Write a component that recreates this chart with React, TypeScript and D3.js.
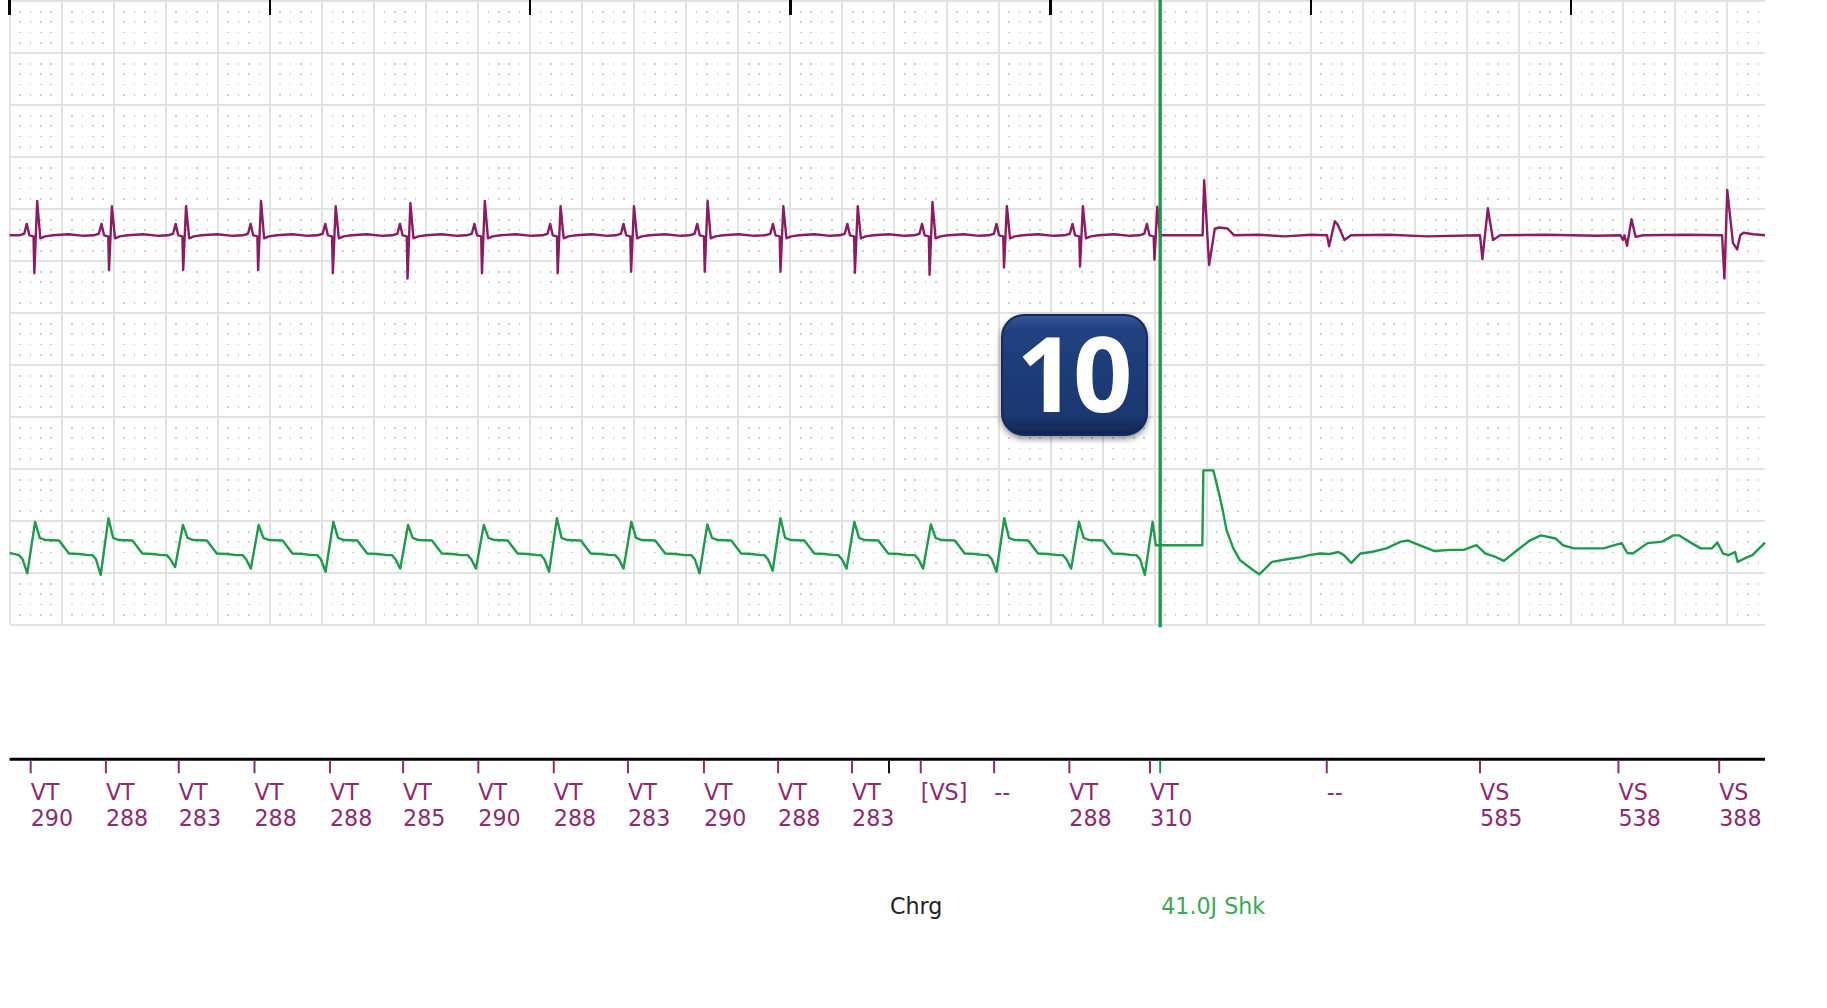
import React, { useEffect, useRef } from 'react';
import * as d3 from 'd3';

// ---- strip data (times in ms, amplitudes in mV, 1 mV = 1 grid row) ----

// time span covered by the paper grid
const stripStart = 0;
const stripEnd = 6745;
const secondTicks = [0, 1000, 2000, 3000, 4000, 5000, 6000];

// near-field EGM (purple): spike times and amplitudes of the VT beats before the shock
const nearBeatTimes = [106, 393, 678, 966, 1253, 1540, 1826, 2117, 2399, 2682, 2973, 3259, 3546, 3832, 4124, 4410];
const nearBeatPeaks = [0.66, 0.56, 0.56, 0.66, 0.56, 0.62, 0.66, 0.56, 0.56, 0.66, 0.56, 0.56, 0.64, 0.56, 0.56, 0.55];
const nearBeatTroughs = [-0.73, -0.67, -0.67, -0.67, -0.73, -0.83, -0.73, -0.73, -0.7, -0.7, -0.7, -0.72, -0.76, -0.62, -0.6, -0.47];
// one VT complex on the near-field channel (offset ms, level)
const nearShape = [
  { dt: -70, v: 0 },
  { dt: -50, v: 0.03 },
  { dt: -40, v: 0.22 },
  { dt: -30, v: 0 },
  { dt: -14, v: -0.02 },
  { dt: -11, key: 'trough' },
  { dt: 0, key: 'peak' },
  { dt: 12, v: -0.06 },
  { dt: 30, v: -0.02 },
  { dt: 60, v: 0 },
  { dt: 120, v: 0.02 },
  { dt: 180, v: -0.01 },
];
// near-field after the shock
const nearAfterShock: [number, number][] = [
  [4424, 0], [4584, 0], [4590, 1.06], [4609, -0.57], [4631, 0.13], [4647, 0.15], [4680, 0.13], [4705, 0],
  [4800, 0.01], [4900, -0.02], [5000, 0.01], [5062, 0], [5070, -0.21], [5092, 0.27], [5104, 0.2], [5129, -0.09],
  [5154, 0], [5300, 0.01], [5450, -0.02], [5650, 0], [5659, -0.46], [5680, 0.52], [5700, -0.09], [5727, 0],
  [5900, 0.01], [6100, -0.01], [6190, 0], [6199, -0.09], [6205, 0], [6215, -0.2], [6232, 0.31], [6248, -0.03],
  [6277, 0], [6450, 0.01], [6580, 0], [6589, -0.83], [6600, 0.87], [6622, -0.15], [6638, -0.27], [6650, 0],
  [6663, 0.05], [6700, 0.02], [6745, 0],
];

// far-field EGM (green)
const farBeatTimes = [98, 380, 666, 957, 1244, 1531, 1822, 2103, 2389, 2681, 2962, 3246, 3540, 3822, 4109, 4392];
const farBeatPeaks = [0.64, 0.71, 0.58, 0.58, 0.64, 0.58, 0.58, 0.71, 0.64, 0.59, 0.71, 0.64, 0.59, 0.71, 0.64, 0.64];
const farBeatTroughs = [-0.35, -0.38, -0.23, -0.26, -0.32, -0.26, -0.26, -0.32, -0.26, -0.35, -0.3, -0.26, -0.26, -0.32, -0.26, -0.38];
const farShape = [
  { dt: -62, v: 0 },
  { dt: -48, v: -0.08 },
  { dt: -30, key: 'trough' },
  { dt: 0, key: 'peak' },
  { dt: 18, v: 0.33 },
  { dt: 40, v: 0.29 },
  { dt: 92, v: 0.28 },
  { dt: 130, v: 0.03 },
  { dt: 170, v: 0.02 },
  { dt: 205, v: 0 },
];
const farAfterShock: [number, number][] = [
  [4404, 0.19], [4583, 0.19], [4587, 1.63], [4625, 1.63], [4644, 1.25], [4661, 0.87], [4676, 0.48], [4702, 0.13],
  [4728, -0.1], [4779, -0.29], [4802, -0.37], [4851, -0.13], [4908, -0.08], [4964, -0.04], [4993, 0], [5035, 0.03],
  [5070, 0.02], [5106, 0.06], [5127, 0], [5155, -0.15], [5190, 0.03], [5233, 0.06], [5290, 0.13], [5346, 0.26],
  [5374, 0.28], [5417, 0.19], [5473, 0.08], [5537, 0.1], [5587, 0.1], [5636, 0.19], [5671, 0.03], [5707, -0.03],
  [5742, -0.11], [5784, 0.06], [5841, 0.28], [5884, 0.38], [5940, 0.32], [5968, 0.19], [6011, 0.13], [6124, 0.13],
  [6194, 0.23], [6216, 0.04], [6237, 0.03], [6294, 0.23], [6350, 0.26], [6393, 0.38], [6414, 0.38], [6463, 0.23],
  [6498, 0.13], [6541, 0.13], [6562, 0.24], [6584, 0.03], [6605, 0], [6630, 0.06], [6640, -0.13], [6668, -0.06],
  [6697, 0], [6745, 0.24],
];

// marker channel
const markerTimes = [81, 370, 650, 941, 1231, 1512, 1801, 2091, 2376, 2668, 2953, 3237, 3501, 3783, 4072, 4382, 5061, 5650, 6182, 6569];
const markerCodes = ['VT', 'VT', 'VT', 'VT', 'VT', 'VT', 'VT', 'VT', 'VT', 'VT', 'VT', 'VT', '[VS]', '--', 'VT', 'VT', '--', 'VS', 'VS', 'VS'];
const markerIntervals = ['290', '288', '283', '288', '288', '285', '290', '288', '283', '290', '288', '283', '', '', '288', '310', '', '585', '538', '388'];

// therapy events
const chargeTime = 3379;
const shockTime = 4421;
const chargeLabel = 'Chrg';
const shockLabel = '41.0J Shk';
const badgeLabel = '10';

// ---- layout ----
const WIDTH = 1827;
const HEIGHT = 1008;
const grid = { left: 9.6, right: 1765, top: 1.3, bottom: 625.3, rows: 12 };
const nearBaseRow = 4.5;
const farBaseRow = 10.65;
const markerAxisY = 759.3;

const PURPLE = '#8b1c62';
const PURPLE_TEXT = '#8f2a6f';
const GREEN = '#1f9a4c';
const GREEN_TEXT = '#3aa85a';
const LABEL_FONT = '"DejaVu Sans", sans-serif';
const LABEL_SIZE = 22.2;

type ShapePt = { dt: number; v?: number; key?: string };

// lay the complex template at every beat, using that beat's own peak / trough
function buildBeats(times: number[], peaks: number[], troughs: number[], shape: ShapePt[]) {
  const pts: [number, number][] = [];
  times.forEach((t, i) => {
    shape.forEach(s => {
      const v = s.key === 'peak' ? peaks[i] : s.key === 'trough' ? troughs[i] : (s.v as number);
      pts.push([t + s.dt, v]);
    });
  });
  return pts;
}

export default function App() {
  const svgRef = useRef<SVGSVGElement>(null);

  useEffect(() => {
    if (!svgRef.current) return;
    const svg = d3.select(svgRef.current);
    svg.selectAll('*').remove();

    const x = d3.scaleLinear().domain([stripStart, stripEnd]).range([grid.left, grid.right]);
    const yRow = d3.scaleLinear().domain([0, grid.rows]).range([grid.top, grid.bottom]);

    // ---- paper grid ----
    const g = svg.append('g').attr('shape-rendering', 'crispEdges');

    // sub-division dots (every 40 ms / 0.2 row, skipping the major lines)
    const dots: { t: number; r: number }[] = [];
    for (let i = 0; i * 40 < stripEnd; i++) {
      if (i % 5 === 0) continue;
      for (let j = 0; j < grid.rows * 5; j++) {
        if (j % 5 === 0) continue;
        dots.push({ t: i * 40, r: j / 5 });
      }
    }
    g.selectAll('rect.dot')
      .data(dots)
      .join('rect')
      .attr('class', 'dot')
      .attr('x', d => x(d.t) - 0.8)
      .attr('y', d => yRow(d.r) - 0.8)
      .attr('width', 1.6)
      .attr('height', 1.6)
      .attr('fill', '#cfcfcf');

    g.selectAll('line.v')
      .data(d3.range(stripStart, stripEnd, 200))
      .join('line')
      .attr('class', 'v')
      .attr('x1', d => x(d))
      .attr('x2', d => x(d))
      .attr('y1', grid.top)
      .attr('y2', grid.bottom)
      .attr('stroke', '#e2e2e2')
      .attr('stroke-width', 2);

    g.selectAll('line.h')
      .data(d3.range(0, grid.rows + 1))
      .join('line')
      .attr('class', 'h')
      .attr('x1', grid.left)
      .attr('x2', grid.right)
      .attr('y1', d => yRow(d))
      .attr('y2', d => yRow(d))
      .attr('stroke', '#e2e2e2')
      .attr('stroke-width', 2);

    // one-second ticks along the top edge
    g.selectAll('line.sec')
      .data(secondTicks)
      .join('line')
      .attr('class', 'sec')
      .attr('x1', d => x(d))
      .attr('x2', d => x(d))
      .attr('y1', 0)
      .attr('y2', 15)
      .attr('stroke', '#000')
      .attr('stroke-width', 2.5);

    // ---- traces ----
    const traceLine = (baseRow: number) =>
      d3.line<[number, number]>()
        .x(d => x(d[0]))
        .y(d => yRow(baseRow - d[1]));

    const nearPts: [number, number][] = [
      [0, 0],
      ...buildBeats(nearBeatTimes, nearBeatPeaks, nearBeatTroughs, nearShape).filter(p => p[0] < nearAfterShock[0][0]),
      ...nearAfterShock,
    ];
    const farPts: [number, number][] = [
      [0, 0.04],
      [20, 0.02],
      ...buildBeats(farBeatTimes, farBeatPeaks, farBeatTroughs, farShape).filter(p => p[0] < farAfterShock[0][0]),
      ...farAfterShock,
    ];

    svg.append('path')
      .attr('d', traceLine(nearBaseRow)(nearPts))
      .attr('fill', 'none')
      .attr('stroke', PURPLE)
      .attr('stroke-width', 2.4)
      .attr('stroke-linejoin', 'round');

    svg.append('path')
      .attr('d', traceLine(farBaseRow)(farPts))
      .attr('fill', 'none')
      .attr('stroke', GREEN)
      .attr('stroke-width', 2.4)
      .attr('stroke-linejoin', 'round');

    // shock delivery line
    svg.append('line')
      .attr('x1', x(shockTime))
      .attr('x2', x(shockTime))
      .attr('y1', 0)
      .attr('y2', grid.bottom + 2)
      .attr('stroke', '#1c9648')
      .attr('stroke-width', 3.3);

    // ---- marker channel ----
    const m = svg.append('g');
    m.append('line')
      .attr('x1', grid.left)
      .attr('x2', grid.right)
      .attr('y1', markerAxisY)
      .attr('y2', markerAxisY)
      .attr('stroke', '#000')
      .attr('stroke-width', 3);

    const markers = markerTimes.map((t, i) => ({ t, code: markerCodes[i], interval: markerIntervals[i] }));
    const ticks = [
      ...markers.map(d => ({ t: d.t, color: PURPLE_TEXT })),
      { t: chargeTime, color: '#111' },
      { t: shockTime, color: GREEN },
    ];
    m.selectAll('line.mk')
      .data(ticks)
      .join('line')
      .attr('class', 'mk')
      .attr('x1', d => x(d.t))
      .attr('x2', d => x(d.t))
      .attr('y1', markerAxisY + 1)
      .attr('y2', markerAxisY + 14)
      .attr('stroke', d => d.color)
      .attr('stroke-width', 2);

    // code on the first line, interval (ms) on the second
    const labels = m.selectAll('text.lbl')
      .data(markers)
      .join('text')
      .attr('class', 'lbl')
      .attr('font-family', LABEL_FONT)
      .attr('font-size', LABEL_SIZE)
      .attr('fill', PURPLE_TEXT);
    labels.append('tspan')
      .attr('x', d => x(d.t))
      .attr('y', 799.5)
      .text(d => d.code);
    labels.filter(d => d.interval !== '')
      .append('tspan')
      .attr('x', d => x(d.t))
      .attr('y', 825.5)
      .text(d => d.interval);

    // therapy annotations under the marker channel
    m.append('text')
      .attr('x', x(chargeTime) + 1)
      .attr('y', 914)
      .attr('font-family', LABEL_FONT)
      .attr('font-size', LABEL_SIZE)
      .attr('fill', '#222')
      .text(chargeLabel);
    m.append('text')
      .attr('x', x(shockTime) + 1)
      .attr('y', 914)
      .attr('font-family', LABEL_FONT)
      .attr('font-size', LABEL_SIZE)
      .attr('fill', GREEN_TEXT)
      .text(shockLabel);

    // ---- numbered callout badge ----
    const defs = svg.append('defs');
    const grad = defs.append('linearGradient')
      .attr('id', 'badgeFill')
      .attr('x1', 0).attr('y1', 0).attr('x2', 0).attr('y2', 1);
    grad.append('stop').attr('offset', '0%').attr('stop-color', '#34579a');
    grad.append('stop').attr('offset', '12%').attr('stop-color', '#21417f');
    grad.append('stop').attr('offset', '85%').attr('stop-color', '#1b3770');
    grad.append('stop').attr('offset', '100%').attr('stop-color', '#0f2452');
    const shadow = defs.append('filter').attr('id', 'badgeShadow')
      .attr('x', '-20%').attr('y', '-20%').attr('width', '140%').attr('height', '150%');
    shadow.append('feDropShadow')
      .attr('dx', 0).attr('dy', 3).attr('stdDeviation', 3)
      .attr('flood-color', '#000').attr('flood-opacity', 0.45);

    const badge = svg.append('g').attr('transform', 'translate(1002,315)');
    badge.append('rect')
      .attr('width', 145)
      .attr('height', 120)
      .attr('rx', 22)
      .attr('fill', 'url(#badgeFill)')
      .attr('stroke', '#122a5c')
      .attr('stroke-width', 2)
      .attr('filter', 'url(#badgeShadow)');
    badge.append('text')
      .attr('x', 71)
      .attr('y', 97)
      .attr('text-anchor', 'middle')
      .attr('font-family', '"Open Sans", "DejaVu Sans", sans-serif')
      .attr('font-weight', 700)
      .attr('font-size', 104)
      .attr('letter-spacing', -3)
      .attr('fill', '#fff')
      .text(badgeLabel);
  }, []);

  return (
    <div style={{ position: 'absolute', left: 0, top: 0, width: WIDTH, height: HEIGHT, background: '#fff' }}>
      <svg ref={svgRef} width={WIDTH} height={HEIGHT} style={{ display: 'block' }} />
    </div>
  );
}
